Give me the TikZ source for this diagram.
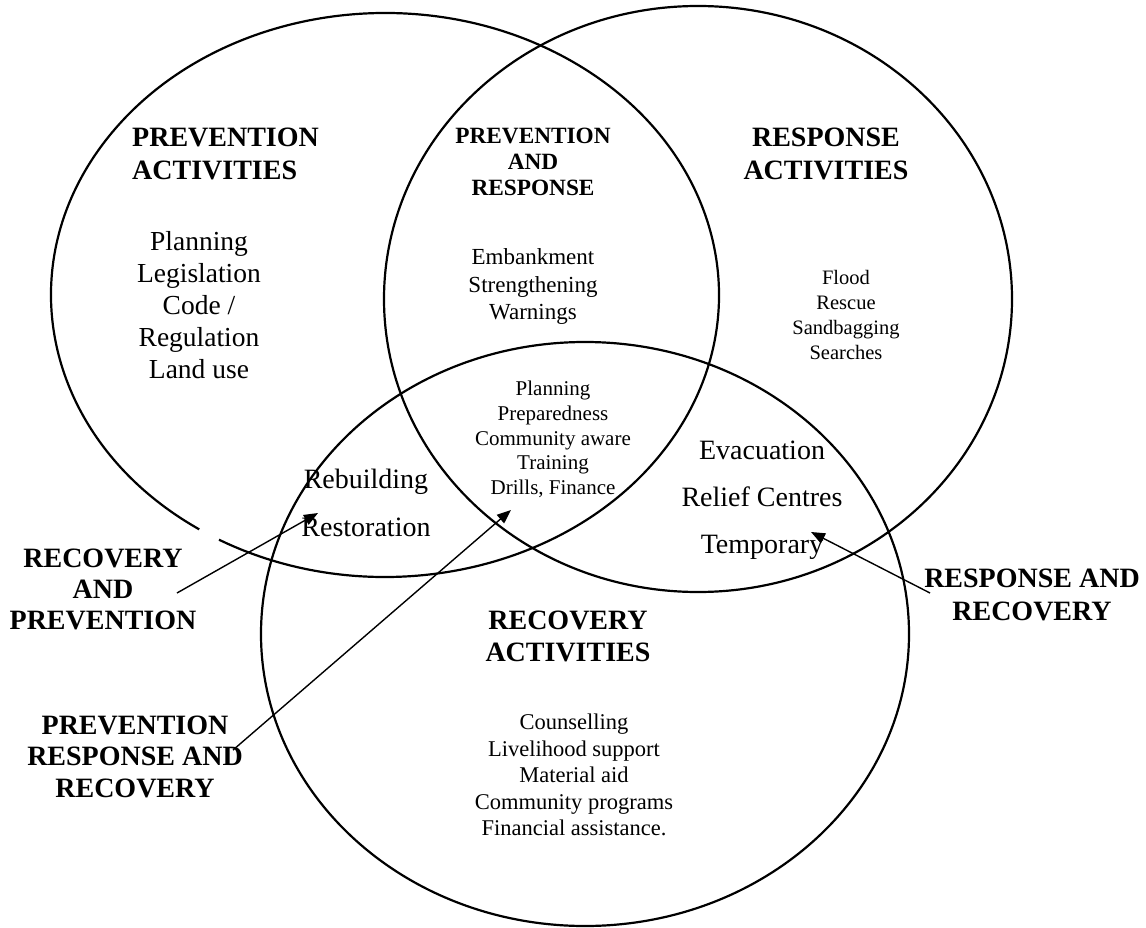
\documentclass[tikz,border=0pt]{standalone}
\usepackage{fontspec}
\setmainfont{Liberation Serif}
\usetikzlibrary{arrows.meta}
\begin{document}
\begin{tikzpicture}[x=1pt,y=-1pt,
  circ/.style={line width=2.2pt},
  arr/.style={line width=1.4pt,-{Triangle[length=14pt,width=11pt]}},
  lbl/.style={inner sep=0pt,align=center},
  bigb/.style={font=\fontsize{28}{33}\selectfont\bfseries}
]
\useasboundingbox (0,0) rectangle (1146,928);
\fill[white] (0,0) rectangle (1146,928);

% circles
\coordinate (cP) at (385,295);
\coordinate (cR) at (698,299);
\coordinate (cC) at (585,634);
\draw[circ] ([shift={(123.8:334 and 282)}]cP) arc[start angle=123.8, end angle=479.8, x radius=334, y radius=282];
\draw[circ] (cR) ellipse [x radius=314, y radius=293];
\draw[circ] (cC) ellipse [x radius=324, y radius=292];

% labels
\node[lbl,bigb,anchor=west,align=left] (pa) at (132,153.5) {PREVENTION\\ACTIVITIES};
\node[lbl,font=\fontsize{27.5}{32}\selectfont] (plist) at (199,305.5) {Planning\\Legislation\\Code /\\Regulation\\Land use};
\node[lbl,font=\fontsize{23.3}{26}\selectfont\bfseries] (pr) at (533,162) {PREVENTION\\AND\\RESPONSE};
\node[lbl,font=\fontsize{23}{27.5}\selectfont] (prlist) at (533,287) {Embankment\\Strengthening\\Warnings};
\node[lbl,bigb] (ra) at (826,153.5) {RESPONSE\\ACTIVITIES};
\node[lbl,font=\fontsize{20.5}{24.7}\selectfont] (rlist) at (846,315) {Flood\\Rescue\\Sandbagging\\Searches};
\node[lbl,font=\fontsize{21}{24.7}\selectfont] (prrlist) at (553,439.5) {Planning\\Preparedness\\Community aware\hspace*{33pt}\\Training\\Drills, Finance};
\node[lbl,font=\fontsize{28}{48}\selectfont] (rp) at (366,503) {Rebuilding\\Restoration};
\node[lbl,font=\fontsize{28}{47}\selectfont] (rr) at (762,500) {Evacuation\\Relief Centres\\Temporary};
\node[lbl,font=\fontsize{28}{31}\selectfont\bfseries] (rap) at (103,589) {RECOVERY\\AND\\PREVENTION};
\node[lbl,font=\fontsize{28}{31.5}\selectfont\bfseries] (prr) at (135,756.5) {PREVENTION\\RESPONSE AND\\RECOVERY};
\node[lbl,bigb] (rar) at (1032,594.5) {RESPONSE AND\\RECOVERY};
\node[lbl,font=\fontsize{28}{32}\selectfont\bfseries] (ca) at (568,636) {RECOVERY\\ACTIVITIES};
\node[lbl,font=\fontsize{22.5}{26.5}\selectfont] (clist) at (574,775) {Counselling\\Livelihood support\\Material aid\\Community programs\\Financial assistance.};

% arrows
\coordinate (a1s) at (177,593); \coordinate (a1e) at (318,513);
\coordinate (a2s) at (233,750); \coordinate (a2e) at (511,510);
\coordinate (a3s) at (930,593); \coordinate (a3e) at (811,532);
\draw[arr] (a1s) -- (a1e);
\draw[arr] (a2s) -- (a2e);
\draw[arr] (a3s) -- (a3e);
\end{tikzpicture}
\end{document}
